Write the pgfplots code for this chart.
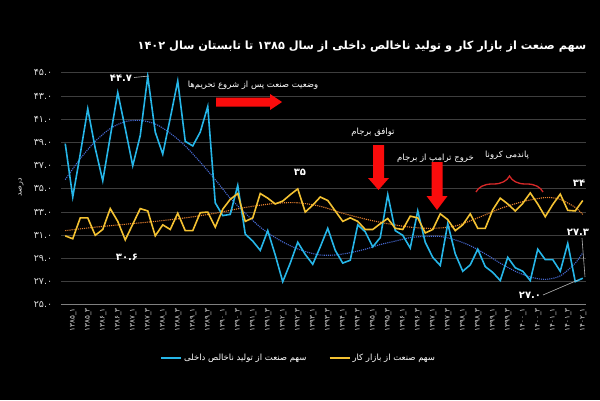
\documentclass[border=0pt]{standalone}
\usepackage{fontspec}
\usepackage{pgfplots}
\pgfplotsset{compat=1.18}
\usetikzlibrary{decorations.pathreplacing,backgrounds}
\newfontfamily\fa[Script=Arabic]{DejaVu Sans}
\TeXXeTstate=1

\definecolor{bluec}{RGB}{38,182,232}
\definecolor{yellowc}{RGB}{244,194,50}
\definecolor{tblue}{RGB}{70,105,210}
\definecolor{torange}{RGB}{232,130,47}
\definecolor{gridc}{RGB}{62,62,62}
\definecolor{axisc}{RGB}{128,128,128}
\definecolor{arrowred}{RGB}{250,12,12}
\definecolor{bracered}{RGB}{215,40,40}

% quarter label: year, underscore, quarter, kept left to right
\newcommand\ql[2]{\mbox{#1}\_\mbox{#2}}

\begin{document}
\begin{tikzpicture}[x=1pt,y=1pt]
\begin{axis}[
    at={(81,82)}, anchor=south west,
    scale only axis, width=525pt, height=232pt,
    xmin=-0.6, xmax=69.4, ymin=25, ymax=45,
    ytick={25,27,...,45},
    yticklabels={۲۵.۰,۲۷.۰,۲۹.۰,۳۱.۰,۳۳.۰,۳۵.۰,۳۷.۰,۳۹.۰,۴۱.۰,۴۳.۰,۴۵.۰},
    xtick={0,2,...,68},
    xticklabels={\ql{۱۳۸۵}{۱},\ql{۱۳۸۵}{۳},\ql{۱۳۸۶}{۱},\ql{۱۳۸۶}{۳},\ql{۱۳۸۷}{۱},\ql{۱۳۸۷}{۳},
      \ql{۱۳۸۸}{۱},\ql{۱۳۸۸}{۳},\ql{۱۳۸۹}{۱},\ql{۱۳۸۹}{۳},\ql{۱۳۹۰}{۱},\ql{۱۳۹۰}{۳},
      \ql{۱۳۹۱}{۱},\ql{۱۳۹۱}{۳},\ql{۱۳۹۲}{۱},\ql{۱۳۹۲}{۳},\ql{۱۳۹۳}{۱},\ql{۱۳۹۳}{۳},
      \ql{۱۳۹۴}{۱},\ql{۱۳۹۴}{۳},\ql{۱۳۹۵}{۱},\ql{۱۳۹۵}{۳},\ql{۱۳۹۶}{۱},\ql{۱۳۹۶}{۳},
      \ql{۱۳۹۷}{۱},\ql{۱۳۹۷}{۳},\ql{۱۳۹۸}{۱},\ql{۱۳۹۸}{۳},\ql{۱۳۹۹}{۱},\ql{۱۳۹۹}{۳},
      \ql{۱۴۰۰}{۱},\ql{۱۴۰۰}{۳},\ql{۱۴۰۱}{۱},\ql{۱۴۰۱}{۳},\ql{۱۴۰۲}{۱}},
    xticklabel style={rotate=90, anchor=east, font=\fa\fontsize{7.2}{8}\selectfont, text=white!85!black, yshift=-8pt},
    yticklabel style={font=\fa\fontsize{9.5}{10}\selectfont, text=white!85!black, xshift=-5pt},
    ymajorgrids,
    major grid style={gridc, line width=0.8pt},
    axis line style={draw=none},
    tick style={draw=none},
    legend columns=2,
    legend cell align=left,
    legend style={at={(0.453,-0.228)}, anchor=center, fill=black, draw=none,
      text=white, font=\fa\fontsize{8.5}{10}\selectfont,
      /tikz/every even column/.append style={column sep=20pt}},
    legend image code/.code={\draw[#1, line width=2pt] (0pt,0pt) -- (20pt,0pt);},
  ]
  \draw[axisc, line width=1.6pt] (rel axis cs:0,0) -- (rel axis cs:1,0);

  % trend of labour-market share
  \addplot[torange, densely dotted, line width=1.1pt, smooth, forget plot] coordinates {
    (0,31.4) (4,31.7) (8,31.95) (12,32.2) (16,32.5) (20,32.9) (24,33.4) (28,33.75)
    (31,33.8) (34,33.5) (37,32.9) (40,32.4) (43,32.0) (46,31.7) (49,31.6) (52,31.8)
    (55,32.5) (58,33.3) (61,33.9) (64,34.25) (66,34.1) (68,33.4) (69,32.8)
  };
  % trend of GDP share
  \addplot[tblue, densely dotted, line width=1.1pt, smooth, forget plot] coordinates {
    (0,35.8) (2,37.6) (4,39.1) (6,40.2) (8,40.8) (10,40.9) (12,40.6) (14,39.8)
    (16,38.7) (18,37.3) (20,35.8) (22,34.2) (24,32.9) (26,31.7) (28,30.8) (30,30.1)
    (32,29.6) (34,29.3) (36,29.3) (38,29.5) (40,29.8) (42,30.2) (44,30.5) (46,30.8)
    (48,30.9) (50,30.9) (52,30.6) (54,30.1) (56,29.4) (58,28.6) (60,27.9) (62,27.4)
    (64,27.2) (66,27.5) (68,28.6) (69,29.5)
  };

  % share of GDP
  \addplot[bluec, line width=1.6pt] coordinates {
    (0,38.9) (1,34.3) (2,38.0) (3,41.9) (4,38.5) (5,35.7) (6,39.5) (7,43.3)
    (8,40.2) (9,37.0) (10,39.6) (11,44.7) (12,39.9) (13,38.0) (14,41.1) (15,44.3)
    (16,39.1) (17,38.7) (18,39.9) (19,42.1) (20,33.8) (21,32.7) (22,32.8) (23,35.3)
    (24,31.1) (25,30.5) (26,29.7) (27,31.4) (28,29.3) (29,27.0) (30,28.6) (31,30.4)
    (32,29.35) (33,28.5) (34,30.0) (35,31.6) (36,29.7) (37,28.6) (38,28.85) (39,31.9)
    (40,31.3) (41,30.0) (42,30.8) (43,34.5) (44,31.4) (45,31.0) (46,29.9) (47,33.1)
    (48,30.4) (49,29.1) (50,28.4) (51,32.0) (52,29.4) (53,27.9) (54,28.45) (55,29.8)
    (56,28.3) (57,27.8) (58,27.1) (59,29.1) (60,28.2) (61,27.9) (62,27.1) (63,29.8)
    (64,28.9) (65,28.9) (66,27.9) (67,30.3) (68,27.0) (69,27.3)
  };
  \addlegendentry{\beginR سهم صنعت از تولید ناخالص داخلی\endR}

  % share of labour market
  \addplot[yellowc, line width=1.6pt] coordinates {
    (0,30.95) (1,30.7) (2,32.5) (3,32.5) (4,31.0) (5,31.5) (6,33.3) (7,32.2)
    (8,30.6) (9,31.95) (10,33.3) (11,33.1) (12,30.95) (13,31.9) (14,31.5) (15,32.9)
    (16,31.4) (17,31.4) (18,32.95) (19,33.0) (20,31.7) (21,33.25) (22,34.1) (23,34.6)
    (24,32.2) (25,32.5) (26,34.6) (27,34.2) (28,33.7) (29,33.95) (30,34.5) (31,35.0)
    (32,33.0) (33,33.6) (34,34.3) (35,34.0) (36,33.1) (37,32.2) (38,32.5) (39,32.2)
    (40,31.5) (41,31.5) (42,32.0) (43,32.45) (44,31.6) (45,31.5) (46,32.65) (47,32.5)
    (48,31.2) (49,31.5) (50,32.85) (51,32.35) (52,31.4) (53,31.9) (54,32.85) (55,31.6)
    (56,31.6) (57,33.2) (58,34.2) (59,33.7) (60,33.1) (61,33.75) (62,34.65) (63,33.7)
    (64,32.6) (65,33.65) (66,34.55) (67,33.15) (68,33.1) (69,34.0)
  };
  \addlegendentry{\beginR سهم صنعت از بازار کار\endR}
\end{axis}

% title and axis label
\node[text=white, font=\fa\bfseries\fontsize{11.3}{13}\selectfont] at (362,353)
  {\beginR سهم صنعت از بازار کار و تولید ناخالص داخلی از سال ۱۳۸۵ تا تابستان سال ۱۴۰۲\endR};
\node[text=white!85!black, rotate=90, font=\fa\fontsize{8}{9}\selectfont] at (21,213) {\beginR درصد\endR};

% events
\node[text=white, font=\fa\fontsize{8.5}{10}\selectfont] at (253,315) {\beginR وضعیت صنعت پس از شروع تحریم‌ها\endR};
\fill[arrowred] (216,302.5) -- (270,302.5) -- (270,306) -- (282,298) -- (270,290) -- (270,293.5) -- (216,293.5) -- cycle;

\node[text=white, font=\fa\fontsize{8.5}{10}\selectfont] at (373,268) {\beginR توافق برجام\endR};
\fill[arrowred] (373,255) -- (384,255) -- (384,222) -- (389,222) -- (378.5,210) -- (368,222) -- (373,222) -- cycle;

\node[text=white, font=\fa\fontsize{8.5}{10}\selectfont] at (435.5,242) {\beginR خروج ترامپ از برجام\endR};
\fill[arrowred] (431.5,238) -- (442.5,238) -- (442.5,204) -- (447.5,204) -- (437,190) -- (426.5,204) -- (431.5,204) -- cycle;

\node[text=white, font=\fa\fontsize{8.5}{10}\selectfont] at (507,245) {\beginR پاندمی کرونا\endR};
\draw[bracered, line width=1.3pt, decorate, decoration={brace, amplitude=16pt}] (476,208) -- (543,208);

% value labels
\node[text=white, font=\fa\bfseries\fontsize{10}{12}\selectfont] at (121,322) {۴۴.۷};
\draw[white!70!black, line width=0.6pt] (134,322.5) -- (149,324);
\node[text=white, font=\fa\bfseries\fontsize{10}{12}\selectfont] at (127,143) {۳۰.۶};
\node[text=white, font=\fa\bfseries\fontsize{10}{12}\selectfont] at (300,228) {۳۵};
\node[text=white, font=\fa\bfseries\fontsize{10}{12}\selectfont] at (579,217) {۳۴};
\node[text=white, font=\fa\bfseries\fontsize{10}{12}\selectfont] at (578,168) {۲۷.۳};
\draw[white!70!black, line width=0.6pt] (582,162) -- (585,123);
\node[text=white, font=\fa\bfseries\fontsize{10}{12}\selectfont] at (530,105) {۲۷.۰};
\draw[white!70!black, line width=0.6pt] (543,105) -- (578,120);

\begin{scope}[on background layer]
  \fill[black] (0,0) rectangle (600,400);
\end{scope}
\pgfresetboundingbox
\useasboundingbox (0,0) rectangle (600,400);
\end{tikzpicture}
\end{document}
